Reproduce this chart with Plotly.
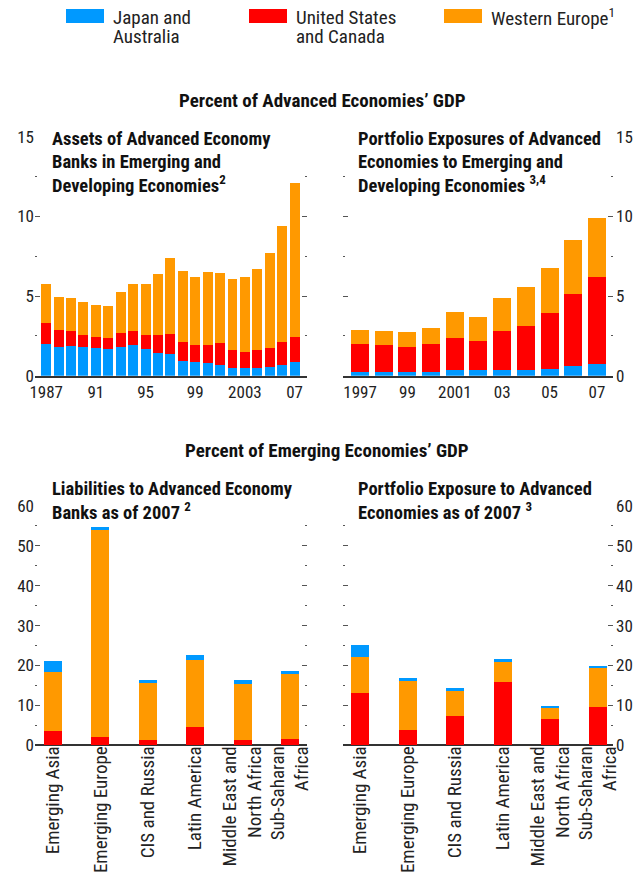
import plotly.graph_objects as go

W, H = 639, 880

# ---------------- data ----------------
years_assets = list(range(1987, 2008))
assets_japan_aus = [1.99, 1.80, 1.86, 1.80, 1.74, 1.67, 1.80, 1.92, 1.67, 1.42, 1.36,
                    0.92, 0.86, 0.79, 0.67, 0.48, 0.48, 0.48, 0.54, 0.67, 0.86]
assets_us_canada = [1.32, 1.07, 0.94, 0.75, 0.69, 0.69, 0.88, 0.88, 0.88, 1.13, 1.26,
                    1.19, 1.06, 1.13, 1.38, 1.13, 1.01, 1.13, 1.20, 1.44, 1.57]
assets_w_europe = [2.44, 2.07, 2.07, 2.07, 2.01, 2.01, 2.57, 2.95, 3.20, 3.83, 4.76,
                   4.46, 4.27, 4.59, 4.39, 4.46, 4.70, 5.08, 5.96, 7.28, 9.66]
assets_tickvals = [1987, 1991, 1995, 1999, 2003, 2007]
assets_ticktext = ["1987", "91", "95", "99", "2003", "07"]

years_port = list(range(1997, 2008))
port_japan_aus = [0.25, 0.25, 0.25, 0.25, 0.38, 0.38, 0.38, 0.38, 0.44, 0.63, 0.75]
port_us_canada = [1.74, 1.67, 1.55, 1.74, 1.98, 1.80, 2.42, 2.74, 3.49, 4.50, 5.44]
port_w_europe = [0.88, 0.88, 0.94, 1.00, 1.64, 1.50, 2.07, 2.44, 2.83, 3.38, 3.71]
port_tickvals = [1997, 1999, 2001, 2003, 2005, 2007]
port_ticktext = ["1997", "99", "2001", "03", "05", "07"]

regions = ["Emerging Asia", "Emerging Europe", "CIS and Russia", "Latin America",
           "Middle East and<br>North Africa", "Sub-Saharan<br>Africa"]
liab_us_canada = [3.6, 2.1, 1.3, 4.6, 1.3, 1.6]
liab_w_europe = [14.9, 52.0, 14.3, 16.8, 14.1, 16.5]
liab_japan_aus = [2.6, 0.6, 0.8, 1.2, 1.0, 0.5]

pexp_us_canada = [13.1, 3.8, 7.4, 15.9, 6.6, 9.6]
pexp_w_europe = [9.0, 12.3, 6.2, 5.0, 3.0, 9.8]
pexp_japan_aus = [3.0, 0.8, 0.8, 0.7, 0.3, 0.5]

series_names = [["Japan and", "Australia"], ["United States", "and Canada"],
                ["Western Europe<sup>1</sup>"]]

# ---------------- style ----------------
BLUE = "#0099FF"
RED = "#FF0000"
ORANGE = "#FF9900"
FONT = "Liberation Sans Narrow, Arial Narrow, Roboto Condensed, DejaVu Sans Condensed, sans-serif"
TXT = "#222222"
AXC = "#333333"


def px(x):
    return x / W


def py(y):
    return 1 - y / H


fig = go.Figure()

# top-left: blue, red, orange (bottom to top)
for vals, col in [(assets_japan_aus, BLUE), (assets_us_canada, RED), (assets_w_europe, ORANGE)]:
    fig.add_trace(go.Bar(x=years_assets, y=vals, marker=dict(color=col, line=dict(width=0)),
                         width=0.8, xaxis="x", yaxis="y", showlegend=False))
# top-right
for vals, col in [(port_japan_aus, BLUE), (port_us_canada, RED), (port_w_europe, ORANGE)]:
    fig.add_trace(go.Bar(x=years_port, y=vals, marker=dict(color=col, line=dict(width=0)),
                         width=0.76, xaxis="x2", yaxis="y2", showlegend=False))
# bottom-left: red, orange, blue
for vals, col in [(liab_us_canada, RED), (liab_w_europe, ORANGE), (liab_japan_aus, BLUE)]:
    fig.add_trace(go.Bar(x=regions, y=vals, marker=dict(color=col, line=dict(width=0)),
                         width=0.38, xaxis="x3", yaxis="y3", showlegend=False))
# bottom-right
for vals, col in [(pexp_us_canada, RED), (pexp_w_europe, ORANGE), (pexp_japan_aus, BLUE)]:
    fig.add_trace(go.Bar(x=regions, y=vals, marker=dict(color=col, line=dict(width=0)),
                         width=0.38, xaxis="x4", yaxis="y4", showlegend=False))

tickfont = dict(family=FONT, size=17, color=TXT)
catfont = dict(family=FONT, size=19, color=TXT)

xl = [px(35), px(307)]
xr = [px(343), px(613)]
yt = [py(375.7), py(136.7)]
yb = [py(745.3), py(506)]


def xaxis_common(**kw):
    d = dict(showgrid=False, zeroline=False, showline=True, linecolor=AXC, linewidth=2,
             ticks="", tickfont=tickfont, fixedrange=True, automargin=False)
    d.update(kw)
    return d


def yaxis_common(**kw):
    d = dict(showgrid=False, zeroline=False, showline=False, ticks="inside", ticklen=5,
             tickwidth=1, tickcolor="#555555", mirror="ticks", tickfont=tickfont,
             fixedrange=True, automargin=False)
    d.update(kw)
    return d


minor_top = dict(dtick=2.5, ticks="inside", ticklen=2, tickcolor="#555555")
minor_bot = dict(dtick=5, ticks="inside", ticklen=2, tickcolor="#555555")

fig.update_layout(
    template="none",
    width=W, height=H, autosize=False,
    margin=dict(l=0, r=0, t=0, b=0, pad=0),
    paper_bgcolor="white", plot_bgcolor="white",
    barmode="stack",
    showlegend=False,
    font=dict(family=FONT, color=TXT),
    xaxis=xaxis_common(domain=xl, anchor="y", range=[1986.1, 2008.0],
                       tickmode="array", tickvals=assets_tickvals, ticktext=assets_ticktext),
    yaxis=yaxis_common(domain=yt, anchor="x", range=[0, 15], dtick=5, side="left",
                       minor=minor_top),
    xaxis2=xaxis_common(domain=xr, anchor="y2", range=[1996.28, 2007.68],
                        tickmode="array", tickvals=port_tickvals, ticktext=port_ticktext),
    yaxis2=yaxis_common(domain=yt, anchor="x2", range=[0, 15], dtick=5, side="right",
                        minor=minor_top, ticklabelstandoff=2),
    # bottom panels: labels on a free axis placed just under the baseline,
    # baseline itself drawn as the y zero line
    xaxis3=xaxis_common(domain=xl, anchor="free", position=py(741.5), showline=False,
                        range=[-0.38, 5.36], tickangle=-90, type="category", tickfont=catfont),
    yaxis3=yaxis_common(domain=yb, anchor="x3", range=[0, 60], dtick=10, side="left",
                        minor=minor_bot, zeroline=True, zerolinecolor=AXC, zerolinewidth=2,
                        layer="above traces"),
    xaxis4=xaxis_common(domain=xr, anchor="free", position=py(741.5), showline=False,
                        range=[-0.36, 5.32], tickangle=-90, type="category", tickfont=catfont),
    yaxis4=yaxis_common(domain=yb, anchor="x4", range=[0, 60], dtick=10, side="right",
                        minor=minor_bot, zeroline=True, zerolinecolor=AXC, zerolinewidth=2,
                        layer="above traces", ticklabelstandoff=2),
)

# ---------------- legend (manual) ----------------
legend_cols = [BLUE, RED, ORANGE]
swatch_x = [66, 249, 444]
legend_line_mid = [17.2, 36.9]
for lines, col, sx in zip(series_names, legend_cols, swatch_x):
    fig.add_shape(type="rect", xref="paper", yref="paper",
                  x0=px(sx), x1=px(sx + 38), y0=py(23), y1=py(9),
                  fillcolor=col, line=dict(width=0))
    for line, ym in zip(lines, legend_line_mid):
        fig.add_annotation(xref="paper", yref="paper", x=px(sx + 45), y=py(ym),
                           xanchor="left", yanchor="middle", align="left", showarrow=False,
                           text=line, font=dict(family=FONT, size=19, color=TXT))

# ---------------- titles ----------------
bold = dict(family=FONT, size=19, color="#111111")
fig.add_annotation(xref="paper", yref="paper", x=px(322.5), y=py(100), xanchor="center",
                   yanchor="middle", showarrow=False,
                   text="<b>Percent of Advanced Economies’ GDP</b>", font=bold)
fig.add_annotation(xref="paper", yref="paper", x=px(326.5), y=py(450), xanchor="center",
                   yanchor="middle", showarrow=False,
                   text="<b>Percent of Emerging Economies’ GDP</b>", font=bold)

ptitle = dict(family=FONT, size=18.5, color="#111111")
top_mids = [139.3, 161.6, 184.3]
bot_mids = [489.3, 511.6]
panel_titles = [
    (50, top_mids, ["Assets of Advanced Economy", "Banks in Emerging and",
                    "Developing Economies<sup>2</sup>"]),
    (356, top_mids, ["Portfolio Exposures of Advanced", "Economies to Emerging and",
                     "Developing Economies <sup>3,4</sup>"]),
    (50, bot_mids, ["Liabilities to Advanced Economy", "Banks as of 2007 <sup>2</sup>"]),
    (356, bot_mids, ["Portfolio Exposure to Advanced", "Economies as of 2007 <sup>3</sup>"]),
]
for x0, mids, lines in panel_titles:
    for line, ym in zip(lines, mids):
        fig.add_annotation(xref="paper", yref="paper", x=px(x0), y=py(ym), xanchor="left",
                           yanchor="middle", align="left", showarrow=False,
                           text="<b>" + line + "</b>", font=ptitle)

fig.write_html("out.html",
               config={"displayModeBar": False, "staticPlot": False},
               post_script="document.body.style.margin='0px';document.body.style.overflow='hidden';")
